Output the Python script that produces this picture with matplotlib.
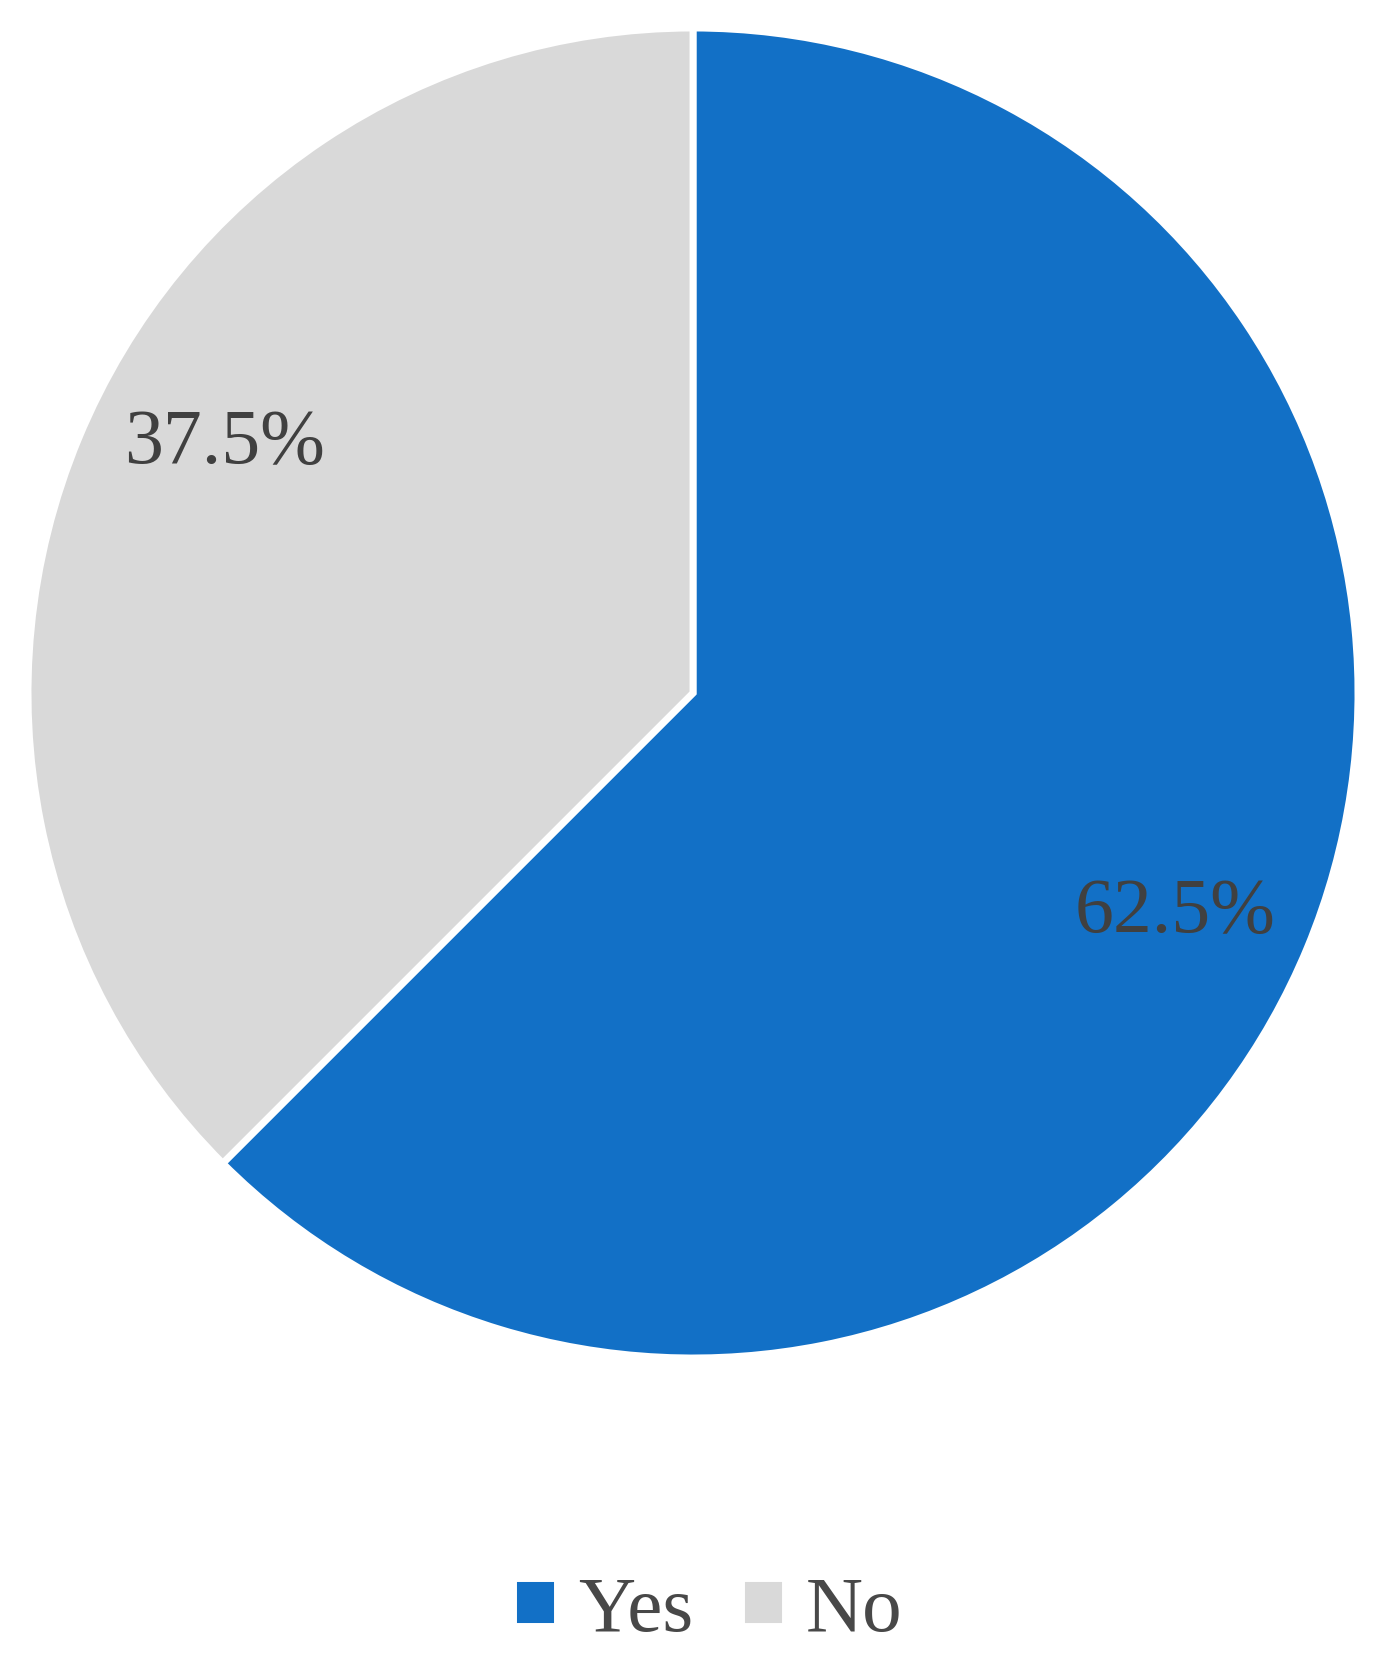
import matplotlib.pyplot as plt

labels = ['Yes', 'No']
values = [62.5, 37.5]
colors = ['#1270C6', '#D9D9D9']

plt.rcParams['font.family'] = ['Liberation Serif', 'DejaVu Serif']

fig = plt.figure(figsize=(13.91, 16.65), dpi=100)
ax = fig.add_axes([28 / 1391, 306 / 1665, 1330 / 1391, 1330 / 1665])

wedges, texts, autotexts = ax.pie(values, colors=colors, startangle=90, counterclock=False,
                                  autopct='%1.1f%%', pctdistance=0.8, radius=1,
                                  wedgeprops=dict(edgecolor='white', linewidth=5),
                                  textprops=dict(fontsize=56, color='#404040'))
# nudge the percentage labels to where the original puts them
autotexts[0].set_position((0.725, -0.33))
autotexts[1].set_position((-0.705, 0.375))

ax.set_xlim(-1, 1)
ax.set_ylim(-1, 1)
ax.set_aspect('equal')

fig.legend(wedges, labels, loc='center', bbox_to_anchor=(0.509, 1 - 1612 / 1665),
           ncol=2, frameon=False, fontsize=57, labelcolor='#484848',
           handlelength=0.55, handleheight=0.55, handletextpad=0.27, columnspacing=0.6)

fig.savefig('out.png', dpi=100, facecolor='white')
